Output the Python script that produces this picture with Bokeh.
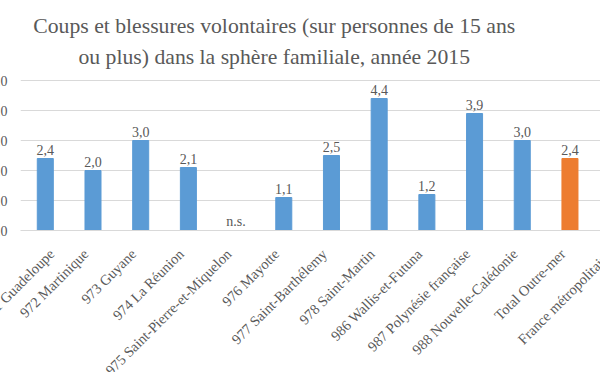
import math
from bokeh.plotting import figure
from bokeh.models import ColumnDataSource, FixedTicker, Label
from bokeh.core.properties import value
from bokeh.embed import file_html
from bokeh.resources import INLINE

# ---- data ----
categories = ["971 Guadeloupe", "972 Martinique", "973 Guyane", "974 La Réunion",
              "975 Saint-Pierre-et-Miquelon", "976 Mayotte", "977 Saint-Barthélemy",
              "978 Saint-Martin", "986 Wallis-et-Futuna", "987 Polynésie française",
              "988 Nouvelle-Calédonie", "Total Outre-mer", "France métropolitaine"]
# visible bars (the France métropolitaine bar lies outside the picture)
values = [2.4, 2.0, 3.0, 2.1, 0.0, 1.1, 2.5, 4.4, 1.2, 3.9, 3.0, 2.4]
not_significant = [False, False, False, False, True, False, False, False, False, False, False, False]
bar_colors = ["#5B9BD5"] * 11 + ["#ED7D31"]
y_ticks = [0, 1, 2, 3, 4, 5]
y_tick_labels = ["0,0", "1,0", "2,0", "3,0", "4,0", "5,0"]
title_lines = ["Coups et blessures volontaires (sur personnes de 15 ans",
               "ou plus) dans la sphère familiale, année 2015"]

FONT = "Liberation Serif"
GRAY = "#595959"
LABEL_SHIFT = -0.15  # rotated labels end slightly left of the bar centre

xs = list(range(len(values)))
labels = ["n.s." if ns else f"{v:.1f}".replace(".", ",") for v, ns in zip(values, not_significant)]
src = ColumnDataSource(dict(x=xs, top=values, color=bar_colors, label=labels))

# the frame reaches up to the top of the picture so the two title lines sit inside it
p = figure(frame_width=621, frame_height=230, output_backend="svg", toolbar_location=None,
           x_range=(-0.52, 12.5), y_range=(0, 7.667),
           min_border_left=42, min_border_right=0, min_border_top=0, min_border_bottom=20)
p.styles = {"margin-left": "-22px"}
p.outline_line_color = None
p.background_fill_color = "white"
p.border_fill_color = "white"
p.title = None

for line, ty in zip(title_lines, [6.833, 5.777]):
    p.add_layout(Label(x=4.8, y=ty, text=line, text_align="center", text_baseline="alphabetic",
                       text_font=FONT, text_font_size="21.7px", text_color=GRAY))

p.vbar(x="x", top="top", width=0.336, color="color", source=src)
p.text(x="x", y="top", text="label", source=src, text_align="center",
       text_baseline="alphabetic", y_offset=-9, text_font=value(FONT),
       text_font_size="14px", text_color=GRAY)

p.xgrid.grid_line_color = None
p.ygrid.grid_line_color = "#D9D9D9"
p.ygrid.ticker = FixedTicker(ticks=y_ticks)

tick_pos = [round(i + LABEL_SHIFT, 2) for i in range(len(categories))]
p.xaxis.ticker = FixedTicker(ticks=tick_pos)
p.xaxis.major_label_overrides = {t_: c for t_, c in zip(tick_pos, categories)}
p.xaxis.major_label_orientation = math.pi / 4
p.xaxis.axis_line_color = "#D9D9D9"
p.xaxis.major_tick_line_color = None
p.xaxis.minor_tick_line_color = None
p.xaxis.major_tick_out = 0
p.xaxis.major_label_standoff = 21
p.xaxis.major_label_text_font = FONT
p.xaxis.major_label_text_font_size = "14.5px"
p.xaxis.major_label_text_color = GRAY

p.yaxis.ticker = FixedTicker(ticks=y_ticks)
p.yaxis.major_label_overrides = {t_: l for t_, l in zip(y_ticks, y_tick_labels)}
p.yaxis.axis_line_color = None
p.yaxis.major_tick_line_color = None
p.yaxis.minor_tick_line_color = None
p.yaxis.major_tick_out = 0
p.yaxis.major_label_standoff = 13
p.yaxis.major_label_text_font = FONT
p.yaxis.major_label_text_font_size = "14px"
p.yaxis.major_label_text_color = GRAY

open("out.html", "w").write(file_html(p, INLINE))
